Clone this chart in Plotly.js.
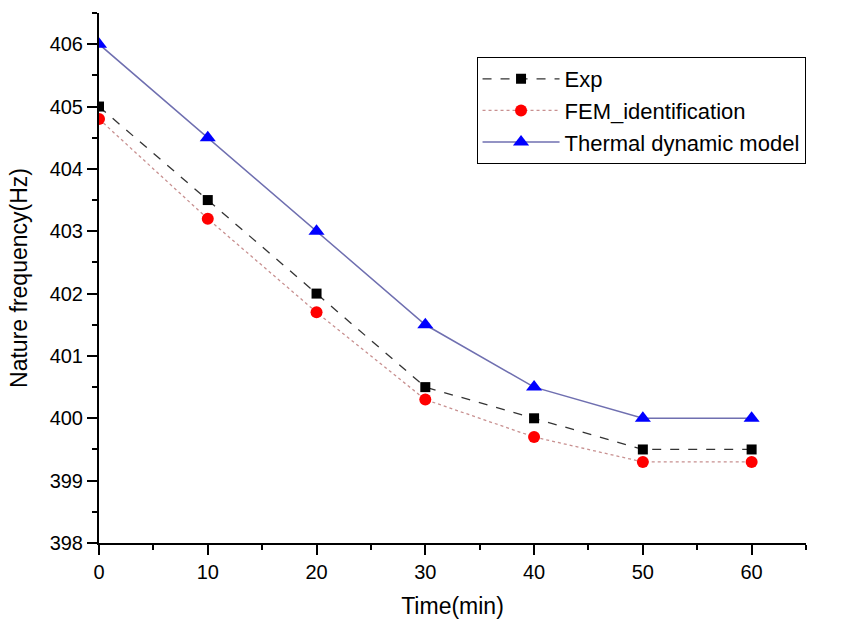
<!DOCTYPE html>
<html>
<head>
<meta charset="utf-8">
<script src="https://cdn.plot.ly/plotly-3.0.1.min.js"></script>
<style>html,body{margin:0;padding:0;background:#fff;}#chart{width:850px;height:621px;}</style>
</head>
<body>
<div id="chart"></div>
<script>
const time = [0, 10, 20, 30, 40, 50, 60];
const expValues = [405, 403.5, 402, 400.5, 400, 399.5, 399.5];
const femValues = [404.8, 403.2, 401.7, 400.3, 399.7, 399.3, 399.3];
const thermalValues = [406, 404.5, 403, 401.5, 400.5, 400, 400];
const seriesNames = ['Exp', 'FEM_identification', 'Thermal dynamic model'];
const xTicks = [0, 10, 20, 30, 40, 50, 60];
const yTicks = [398, 399, 400, 401, 402, 403, 404, 405, 406];

const traces = [
  {x: time, y: expValues, name: seriesNames[0], mode: 'lines+markers',
   line: {color: '#333333', width: 1.3, dash: 'dash'},
   marker: {symbol: 'square', size: 10, color: '#000000'}},
  {x: time, y: femValues, name: seriesNames[1], mode: 'lines+markers',
   line: {color: '#c89090', width: 1.3, dash: 'dot'},
   marker: {symbol: 'circle', size: 12, color: '#ff0000'}},
  {x: time, y: thermalValues, name: seriesNames[2], mode: 'lines+markers',
   line: {color: '#6f6fb0', width: 1.5},
   marker: {symbol: 'triangle-up', size: 14, color: '#0000ff'}}
];

const fam = 'Liberation Sans, Arial, sans-serif';
const layout = {
  width: 850, height: 621,
  margin: {l: 99, r: 44, t: 13, b: 78},
  paper_bgcolor: '#fff', plot_bgcolor: '#fff',
  font: {family: fam, color: '#000'},
  showlegend: true,
  legend: {x: 0.534, y: 0.917, xanchor: 'left', yanchor: 'top',
    bordercolor: '#000', borderwidth: 1, bgcolor: '#fff',
    font: {family: fam, size: 22, color: '#000'},
    itemwidth: 77, tracegroupgap: 0},
  xaxis: {range: [0, 65], tickvals: xTicks,
    showgrid: false, zeroline: false, showline: true, linecolor: '#000', linewidth: 2,
    ticks: 'outside', ticklen: 10, tickwidth: 2, tickcolor: '#000',
    minor: {tickvals: [5,15,25,35,45,55,65], ticks: 'outside', ticklen: 5, tickwidth: 2, tickcolor: '#000'},
    tickfont: {size: 20, family: fam},
    title: {text: 'Time(min)', font: {size: 23, family: fam}, standoff: 16}},
  yaxis: {range: [398, 406.5], tickvals: yTicks,
    showgrid: false, zeroline: false, showline: true, linecolor: '#000', linewidth: 2,
    ticks: 'outside', ticklen: 10, tickwidth: 2, tickcolor: '#000',
    minor: {tickvals: [398.5,399.5,400.5,401.5,402.5,403.5,404.5,405.5,406.5], ticks: 'outside', ticklen: 5, tickwidth: 2, tickcolor: '#000'},
    tickfont: {size: 20, family: fam},
    title: {text: 'Nature frequency(Hz)', font: {size: 23, family: fam}, standoff: 16}}
};
Plotly.newPlot('chart', traces, layout, {displayModeBar: false, staticPlot: true});
</script>
</body>
</html>
